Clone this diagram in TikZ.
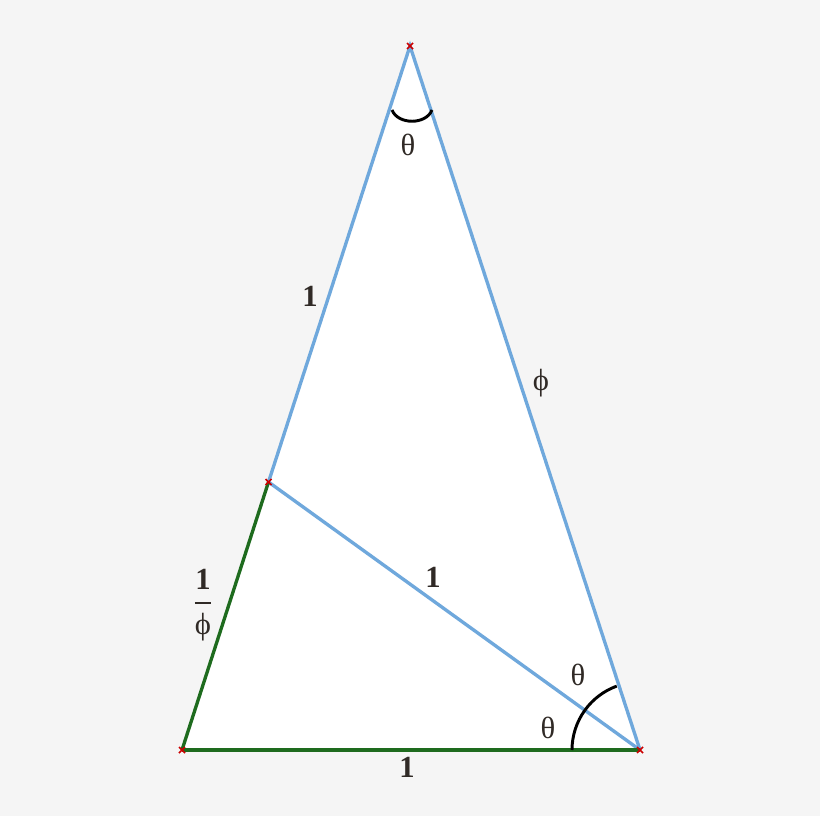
\documentclass[tikz,border=0pt]{standalone}
\usepackage{amsmath}
\usepackage{fontspec}
\setmainfont{Liberation Serif}
\definecolor{bg}{HTML}{F5F5F5}
\definecolor{sideblue}{HTML}{6FA8DC}
\definecolor{sidegreen}{HTML}{1E6B1E}
\definecolor{txt}{HTML}{302A26}
\begin{document}
\begin{tikzpicture}[x=0.75pt,y=-0.75pt,
  blueline/.style={draw=sideblue,line width=2.5pt},
  greenline/.style={draw=sidegreen,line width=2.5pt},
  anglearc/.style={draw=black,line width=2.2pt},
  lab/.style={text=txt,font=\fontsize{23}{26}\selectfont,inner sep=0pt},
  vmark/.style={draw=red!80!black,line width=1.2pt}]
\fill[bg] (0,0) rectangle (820,816);
\useasboundingbox (0,0) rectangle (820,816);
\coordinate (A) at (410,46);
\coordinate (B) at (182,750);
\coordinate (C) at (640,750);
\coordinate (D) at (268.5,482);
\fill[white] (A) -- (B) -- (C) -- cycle;
\draw[blueline] (D) -- (A) -- (C);
\draw[blueline] (D) -- (C);
\draw[greenline] (B) -- (D);
\draw[greenline] (B) -- (C);
% angle arcs
\draw[anglearc] (392,110) .. controls (398,125) and (426,125) .. (432,110);
\draw[anglearc] ([shift={(-180:68)}]C) arc[start angle=-180,end angle=-144.2,radius=68];
\draw[anglearc] ([shift={(-144.2:68)}]C) arc[start angle=-144.2,end angle=-110,radius=68];
% vertex marks
\foreach \p in {A,B,C,D}{
  \draw[vmark] ([shift={(-3,-3)}]\p) -- ([shift={(3,3)}]\p);
  \draw[vmark] ([shift={(-3,3)}]\p) -- ([shift={(3,-3)}]\p);
}
\node[lab] (t1) at (408,145) {θ};
\node[lab] (t2) at (578,675) {θ};
\node[lab] (t3) at (548,728) {θ};
\node[lab] (l1) at (310,296) {\bfseries 1};
\node[lab] (l2) at (433,577) {\bfseries 1};
\node[lab] (l3) at (407,767) {\bfseries 1};
\node[lab] (lp) at (541,383) {ϕ};
\node[lab] (lf) at (203,605) {$\genfrac{}{}{1.6pt}{0}{\text{\bfseries 1}}{\text{ϕ}}$};
\end{tikzpicture}
\end{document}
